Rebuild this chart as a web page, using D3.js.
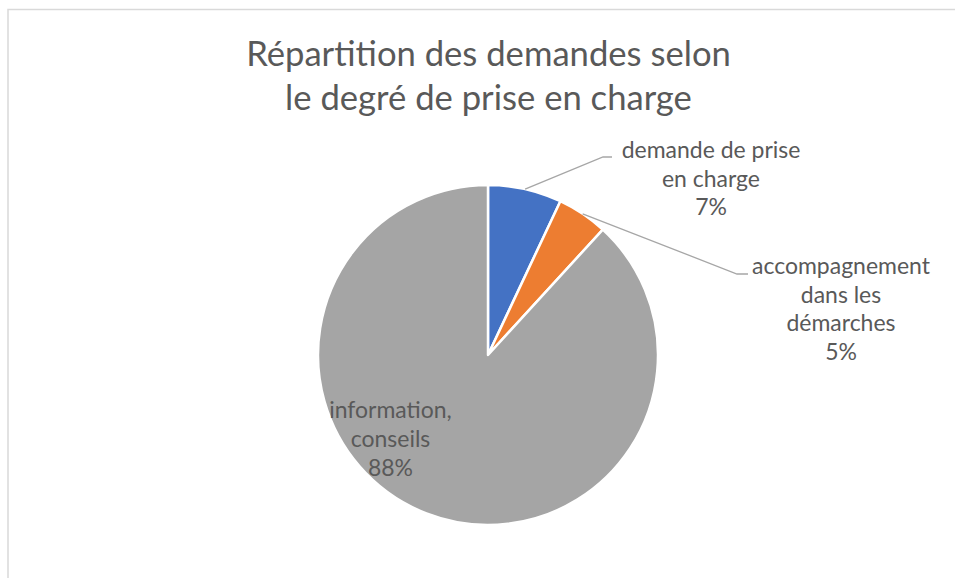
<!DOCTYPE html>
<html><head><meta charset="utf-8">
<script src="https://cdn.jsdelivr.net/npm/d3@7"></script>
<style>body{margin:0;background:#fff}svg{display:block}text{font-family:Lato,"Open Sans",sans-serif;fill:#595959}</style>
</head><body>
<script>
const categories = ["demande de prise en charge", "accompagnement dans les démarches", "information, conseils"];
const values = [7.0, 4.8, 88.2];
const percentLabels = ["7%", "5%", "88%"];
const labelLines = [["demande de prise", "en charge", "7%"], ["accompagnement", "dans les", "démarches", "5%"], ["information,", "conseils", "88%"]];
const colors = ["#4472C4", "#ED7D31", "#A5A5A5"];
const titleLines = ["Répartition des demandes selon", "le degré de prise en charge"];

const W = 955, H = 578;
const svg = d3.select("body").append("svg").attr("width", W).attr("height", H);
svg.append("rect").attr("x", 8).attr("y", 9.5).attr("width", W + 10).attr("height", H + 10)
  .attr("fill", "#fff").attr("stroke", "#d9d9d9").attr("stroke-width", 1.5);

function sizeFor(str, targetW) {
  const probe = svg.append("text").style("font-size", "30px").text(str);
  const s = 30 * targetW / probe.node().getComputedTextLength();
  probe.remove();
  return s;
}

const title = svg.append("text").attr("text-anchor", "middle").style("font-size", sizeFor(titleLines[0], 485) + "px");
titleLines.forEach((t, i) => title.append("tspan").attr("x", 488.5).attr("y", 66 + i * 44).text(t));

const cx = 488, cy = 355, r = 170;
const g = svg.append("g").attr("transform", `translate(${cx},${cy})`);
const pie = d3.pie().sort(null).value(d => d);
const arcs = pie(values);
const arc = d3.arc().innerRadius(0).outerRadius(r);
g.selectAll("path").data(arcs).join("path")
  .attr("d", arc).attr("fill", (d, i) => colors[i])
  .attr("stroke", "#fff").attr("stroke-width", 2.5).attr("stroke-linejoin", "round");

const labelPos = [{x: 711 - cx, y: 158 - cy, lh: 28.6}, {x: 841 - cx, y: 274 - cy, lh: 28.7}, {x: 390.5 - cx, y: 418 - cy, lh: 29}];
const leaderEnds = [[{x: 603, y: 157}, {x: 612, y: 157}], [{x: 737, y: 274}, {x: 748, y: 274}], null];

const labelSize = sizeFor(labelLines[1][0], 178);

arcs.forEach((d, i) => {
  if (leaderEnds[i]) {
    const a = (d.startAngle + d.endAngle) / 2;
    const p0 = [Math.sin(a) * r, -Math.cos(a) * r];
    const pts = [p0, ...leaderEnds[i].map(p => [p.x - cx, p.y - cy])];
    g.append("path").attr("d", d3.line()(pts)).attr("fill", "none").attr("stroke", "#a6a6a6").attr("stroke-width", 1.3);
  }
  const t = g.append("text").attr("text-anchor", "middle").style("font-size", labelSize + "px");
  labelLines[i].forEach((ln, j) => t.append("tspan").attr("x", labelPos[i].x).attr("y", labelPos[i].y + j * labelPos[i].lh).text(ln));
});
</script>
</body></html>
